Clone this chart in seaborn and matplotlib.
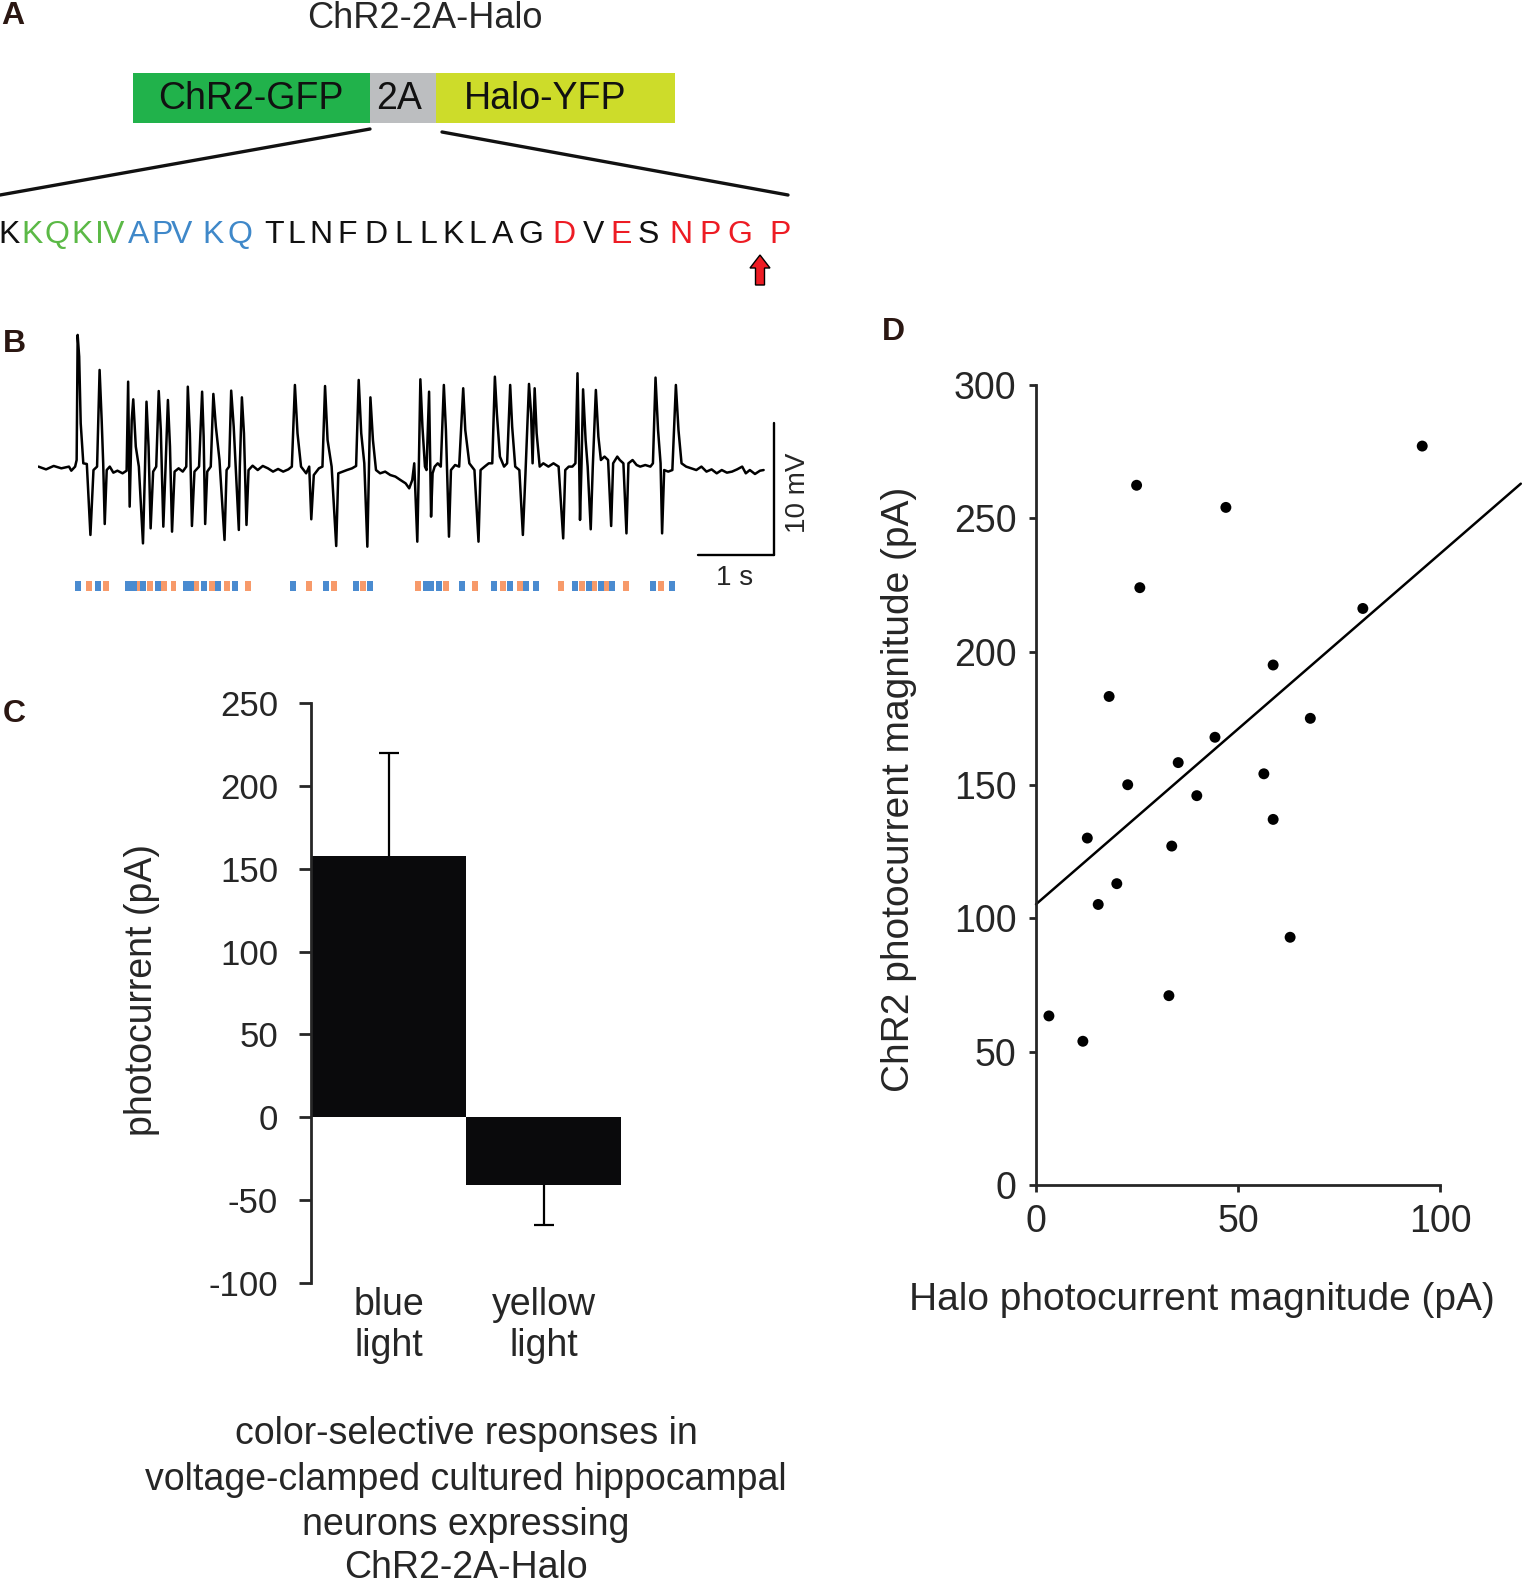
import numpy as np
import pandas as pd
import matplotlib
matplotlib.use('Agg')
import matplotlib.pyplot as plt
from matplotlib.patches import Rectangle, FancyArrow
import seaborn as sns

# ---------- panel B: membrane trace (s, mV relative to rest) ----------
trace_t = [0.00, 0.10, 0.20, 0.30, 0.40, 0.43, 0.48, 0.50, 0.513, 0.533, 0.553, 0.587, 0.633, 0.68, 0.72,
           0.767, 0.80, 0.827, 0.847, 0.867, 0.893, 0.933, 0.98, 1.033, 1.10, 1.153, 1.173, 1.193, 1.22, 1.24,
           1.273, 1.313, 1.367, 1.393, 1.413, 1.44, 1.467, 1.50, 1.54, 1.573, 1.60, 1.633, 1.66, 1.693, 1.72,
           1.747, 1.78, 1.833, 1.887, 1.933, 1.953, 1.98, 2.007, 2.04, 2.10, 2.14, 2.16, 2.18, 2.207, 2.253,
           2.287, 2.32, 2.367, 2.433, 2.46, 2.493, 2.52, 2.553, 2.62, 2.633, 2.66, 2.687, 2.72, 2.747, 2.80,
           2.867, 2.933, 3.00, 3.067, 3.133, 3.20, 3.267, 3.313, 3.353, 3.387, 3.433, 3.50, 3.54, 3.567, 3.60,
           3.667, 3.713, 3.747, 3.78, 3.833, 3.893, 3.92, 3.98, 4.033, 4.10, 4.153, 4.187, 4.22, 4.26, 4.30,
           4.32, 4.34, 4.373, 4.413, 4.467, 4.533, 4.60, 4.667, 4.733, 4.80, 4.847, 4.887, 4.913, 4.953, 4.973,
           4.993, 5.02, 5.053, 5.073, 5.107, 5.133, 5.153, 5.18, 5.22, 5.26, 5.30, 5.327, 5.367, 5.393, 5.447,
           5.50, 5.553, 5.58, 5.633, 5.70, 5.753, 5.78, 5.833, 5.887, 5.933, 5.967, 5.993, 6.033, 6.087, 6.127,
           6.167, 6.193, 6.233, 6.287, 6.333, 6.367, 6.413, 6.44, 6.46, 6.487, 6.513, 6.553, 6.60, 6.667, 6.733,
           6.80, 6.86, 6.887, 6.933, 6.98, 7.02, 7.047, 7.067, 7.08, 7.10, 7.12, 7.153, 7.18, 7.22, 7.247,
           7.287, 7.32, 7.353, 7.40, 7.447, 7.487, 7.513, 7.567, 7.60, 7.647, 7.687, 7.713, 7.767, 7.82, 7.867,
           7.933, 8.00, 8.033, 8.067, 8.10, 8.133, 8.153, 8.18, 8.233, 8.287, 8.333, 8.367, 8.407, 8.467, 8.533,
           8.60, 8.667, 8.733, 8.80, 8.867, 8.933, 9.00, 9.067, 9.133, 9.20, 9.247, 9.30, 9.367, 9.433, 9.48]
trace_v = [0.13, -0.08, 0.18, 0.00, 0.13, -0.18, 0.13, 0.63, 10.13, 8.48, 3.42, 0.38, 0.33, -5.06, -0.13,
           0.13, 7.47, 3.67, 0.38, -4.23, -0.13, 0.13, -0.33, -0.18, -0.38, -0.18, 6.58, -2.91, 3.67, 5.24,
           1.65, 0.13, -5.70, -0.13, 5.06, 1.65, -4.56, -0.25, 0.13, 5.87, 2.91, -4.43, -0.25, 5.19, 1.65,
           -4.81, -0.25, 0.00, -0.25, 0.13, 6.20, 2.66, -4.38, -0.25, 0.13, 5.82, 2.41, -4.23, -0.25, 0.13,
           5.65, 3.16, 0.63, -5.44, -0.13, 0.13, 5.90, 3.16, -4.68, 0.13, 5.39, 2.66, -4.30, -0.13, 0.20,
           -0.13, 0.18, 0.00, -0.25, -0.05, -0.25, -0.08, 0.13, 6.33, 2.66, 0.13, -0.38, 0.13, -3.87, -0.51,
           0.00, 0.13, 6.25, 2.15, 0.13, -5.90, -0.38, -0.25, -0.13, 0.00, 0.18, 6.71, 2.66, 0.38, -5.95,
           -0.13, 5.39, 2.15, -0.13, -0.38, -0.25, -0.51, -0.63, -0.89, -1.14, -1.52, -0.89, 0.38, -5.57, 0.13,
           6.76, 3.16, 0.13, -0.13, 5.82, -3.67, -0.38, 0.13, 0.38, 0.13, 6.33, 2.91, -5.19, -0.13, 0.25,
           0.13, 6.08, 2.91, 0.38, -0.13, -5.57, -0.13, 0.13, 0.38, 0.38, 6.96, 4.18, 0.89, 0.13, 0.38,
           6.33, 3.16, 0.13, -0.13, -5.06, -0.38, 6.41, 4.18, 0.38, 6.08, 2.66, 0.13, 0.38, 0.13, 0.38,
           0.13, -5.32, -0.13, 0.13, 0.13, 0.38, 7.22, 1.14, -3.92, 0.38, 6.00, 2.15, 0.13, -4.63, 0.13,
           5.95, 2.41, 0.63, 0.89, 0.63, -4.38, 0.38, 0.89, 0.63, 0.38, -4.94, 0.38, 0.63, 0.25, 0.13,
           0.25, 0.13, 0.38, 6.89, 2.91, 0.38, -4.94, -0.13, -0.25, -0.13, 6.33, 2.91, 0.38, 0.13, 0.00,
           -0.13, 0.13, -0.25, -0.08, -0.38, -0.13, -0.33, -0.25, -0.08, 0.13, -0.38, -0.13, -0.43, -0.18, -0.13]

blue_pulse_t = [0.513, 0.779, 1.166, 1.246, 1.366, 1.563, 1.93, 1.995, 2.165, 2.347, 2.566, 3.328, 3.765,
                4.151, 4.335, 5.066, 5.132, 5.236, 5.537, 5.955, 6.164, 6.38, 6.5, 7.02, 7.197, 7.354, 7.497,
                8.033, 8.282]
orange_pulse_t = [0.661, 0.878, 1.30, 1.465, 1.642, 1.766, 2.06, 2.269, 2.466, 2.746, 3.533, 3.864, 4.242,
                  4.962, 5.327, 5.713, 6.068, 6.295, 6.834, 7.101, 7.263, 7.432, 7.687, 8.138]

# ---------- panel C ----------
light_labels = ['blue\nlight', 'yellow\nlight']
photocurrent_mean = [158, -41]
photocurrent_err = [62, 24]

# ---------- panel D ----------
halo_pa = [95.6, 24.9, 47.0, 25.7, 80.9, 58.7, 18.1, 67.9, 44.3, 35.2, 22.7, 56.4, 39.8, 58.7, 12.7,
           33.6, 15.4, 20.0, 62.9, 32.9, 3.2, 11.6]
chr2_pa = [277.1, 262.4, 254.1, 224.0, 216.2, 195.0, 183.2, 175.0, 167.9, 158.4, 150.1, 154.2, 146.0,
           137.1, 130.1, 127.1, 105.2, 113.0, 92.9, 71.0, 63.4, 53.9]

# ---------- panel A ----------
seq_letters = list('KKQKIVAPVKQTLNFDLLKLAGDVESNPGP')
seq_x = [9, 32, 57, 82, 99, 114, 139, 162, 182, 213, 240, 274, 296, 321, 347, 376, 403, 428, 453, 477,
         503, 531, 564, 594, 621, 648, 681, 710, 740, 780]
GRN, BLU, RED, BLK = '#5bb946', '#3f88c9', '#ed1c24', '#111111'
seq_colors = [BLK] + [GRN] * 5 + [BLU] * 5 + [BLK] * 11 + [RED, BLK, RED, BLK, RED, RED, RED, RED]

sns.set_style('white')
plt.rcParams['font.family'] = ['Liberation Sans', 'DejaVu Sans']
plt.rcParams['axes.linewidth'] = 2.0
plt.rcParams['axes.unicode_minus'] = False

W, H = 1536, 1583
fig = plt.figure(figsize=(W / 100, H / 100), dpi=100)

# overlay in pixel coords for the drawn schematic and captions
ov = fig.add_axes([0, 0, 1, 1])
ov.set_xlim(0, W)
ov.set_ylim(H, 0)
ov.axis('off')

lab_col = '#2b1712'
for lab, (x, y) in zip('ABCD', [(13, 16), (14, 344), (14, 714), (893, 332)]):
    ov.text(x, y, lab, fontsize=23, fontweight='bold', color=lab_col, ha='center', va='center')

ov.text(425, 18, 'ChR2-2A-Halo', fontsize=26, ha='center', va='center')
ov.add_patch(Rectangle((133, 73), 237, 50, color='#21b24b', lw=0))
ov.add_patch(Rectangle((370, 73), 66, 50, color='#bcbec0', lw=0))
ov.add_patch(Rectangle((436, 73), 239, 50, color='#cddc2a', lw=0))
ov.text(251, 99, 'ChR2-GFP', fontsize=27, ha='center', va='center', color=BLK)
ov.text(399, 99, '2A', fontsize=27, ha='center', va='center', color=BLK)
ov.text(545, 99, 'Halo-YFP', fontsize=27, ha='center', va='center', color=BLK)
ov.plot([370, 0], [129, 195], color=BLK, lw=2.4)
ov.plot([442, 788], [132, 195], color=BLK, lw=2.4)
for ch, x, c in zip(seq_letters, seq_x, seq_colors):
    ov.text(x, 235, ch, fontsize=23, ha='center', va='center', color=c)
ov.add_patch(FancyArrow(760, 285, 0, -30, width=9, head_width=20, head_length=13,
                        length_includes_head=True, fc=RED, ec='black', lw=1))

caption = ['color-selective responses in', 'voltage-clamped cultured hippocampal',
           'neurons expressing', 'ChR2-2A-Halo']
for line, y in zip(caption, [1434, 1480, 1525, 1568]):
    ov.text(466, y, line, fontsize=27, ha='center', va='center')

# ---------- panel B ----------
ax_b = fig.add_axes([38.4 / W, 1 - 560.5 / H, 765 / W, 250.2 / H])
sns.lineplot(x=trace_t, y=trace_v, ax=ax_b, color='black', linewidth=1.8, sort=False, estimator=None)
ax_b.set_xlim(0, 10)
ax_b.set_ylim(-7, 12)
ax_b.axis('off')
sb_x, sb_y = 9.616, -6.58
ax_b.plot([sb_x, sb_x], [sb_y, sb_y + 10], color='black', lw=1.7, clip_on=False)
ax_b.plot([sb_x - 1, sb_x], [sb_y, sb_y], color='black', lw=1.7, clip_on=False)
ax_b.text(9.93, -1.88, '10 mV', rotation=90, fontsize=20, ha='center', va='center')
ax_b.text(9.1, -8.33, '1 s', fontsize=20, ha='center', va='center')

ax_p = fig.add_axes([38.4 / W, 1 - 591 / H, 765 / W, 10 / H])
ax_p.bar(orange_pulse_t, 1, width=0.078, color='#f79a6a', lw=0)
ax_p.bar(blue_pulse_t, 1, width=0.078, color='#4a8bd0', lw=0)
ax_p.set_xlim(0, 10)
ax_p.set_ylim(0, 1)
ax_p.axis('off')

# ---------- panel C ----------
ax_c = fig.add_axes([311 / W, 1 - 1282.7 / H, 310 / W, 579.4 / H])
sns.barplot(x=light_labels, y=photocurrent_mean, color='#0a0a0c', width=1, errorbar=None,
            saturation=1, linewidth=0, ax=ax_c)
for i, (m, e) in enumerate(zip(photocurrent_mean, photocurrent_err)):
    yerr = [[0], [e]] if m > 0 else [[e], [0]]
    eb = ax_c.errorbar([i], [m], yerr=yerr, fmt='none', ecolor='black', elinewidth=1.6,
                       capsize=7.5, capthick=1.6)
    for cap in eb[1]:
        if abs(cap.get_ydata()[0] - m) < 1e-6:
            cap.set_visible(False)
ax_c.set_xlim(-0.5, 1.5)
ax_c.set_ylim(-100, 250)
ax_c.set_yticks([-100, -50, 0, 50, 100, 150, 200, 250])
sns.despine(ax=ax_c, bottom=True)
ax_c.tick_params(axis='y', length=8.6, width=2.0, direction='out', labelsize=25, pad=15, left=True)
ax_c.tick_params(axis='x', length=0, labelsize=27, pad=3)
ax_c.set_ylabel('')
ax_c.text(-0.545, 0.505, 'photocurrent (pA)', rotation=90, fontsize=27, ha='center', va='center',
          transform=ax_c.transAxes)

# ---------- panel D ----------
ax_d = fig.add_axes([1036 / W, 1 - 1185 / H, 404 / W, 800 / H])
ax_d.set_xlim(0, 120)
sns.scatterplot(x=halo_pa, y=chr2_pa, ax=ax_d, color='black', s=62, edgecolor='none')
sns.regplot(x=halo_pa, y=chr2_pa, ax=ax_d, scatter=False, ci=None, truncate=False,
            line_kws={'color': 'black', 'lw': 1.8})
for ln in ax_d.lines:
    ln.set_clip_on(False)
ax_d.set_xlim(0, 100)
ax_d.set_ylim(0, 300)
ax_d.set_xticks([0, 50, 100])
ax_d.set_yticks([0, 50, 100, 150, 200, 250, 300])
sns.despine(ax=ax_d)
ax_d.tick_params(length=5, width=2.0, direction='out', labelsize=27, pad=9, left=True, bottom=True)
ax_d.set_xlabel('')
ax_d.set_ylabel('')
ax_d.text(0.411, -0.144, 'Halo photocurrent magnitude (pA)', fontsize=28, ha='center', va='center',
          transform=ax_d.transAxes)
ax_d.text(-0.339, 0.494, 'ChR2 photocurrent magnitude (pA)', rotation=90, fontsize=28, ha='center',
          va='center', transform=ax_d.transAxes)

fig.savefig('out.png', dpi=100)
